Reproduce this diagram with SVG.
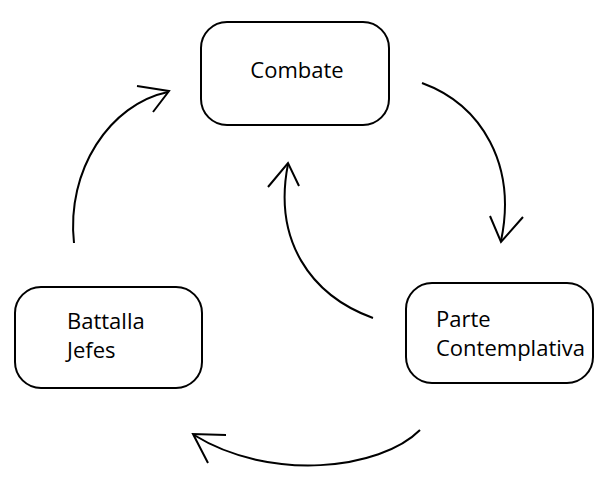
<svg xmlns="http://www.w3.org/2000/svg" width="598" height="492" viewBox="0 0 598 492">
<style>
.box{fill:#fff;stroke:#000;stroke-width:2}
.lbl{font-family:"Open Sans","Noto Sans",sans-serif;font-size:22px;fill:#000}
.con{fill:none;stroke:#000;stroke-width:2}
</style>
<rect width="598" height="492" fill="#fff"/>
<g id="combate">
<rect class="box" x="201" y="22" width="188" height="103" rx="26"/>
<text class="lbl" x="297" y="78" text-anchor="middle">Combate</text>
</g>
<g id="battalla">
<rect class="box" x="15" y="287" width="187" height="101" rx="26"/>
<text class="lbl" x="67" y="329">Battalla</text>
<text class="lbl" x="67" y="358">Jefes</text>
</g>
<g id="parte">
<rect class="box" x="406" y="283" width="187" height="100" rx="26"/>
<text class="lbl" x="436" y="327">Parte</text>
<text class="lbl" x="436" y="356">Contemplativa</text>
</g>
<g id="connectors">
<path class="con" d="M74,243 C66,170 110,104 168,92"/>
<path class="con" d="M137,86 L169,91 L153,112"/>
<path class="con" d="M422,83 C482,105 517,165 501,241"/>
<path class="con" d="M490,216 L501,242 L523,217"/>
<path class="con" d="M373,318 C310,295 273,240 288,164"/>
<path class="con" d="M268,187 L288,163 L299,186"/>
<path class="con" d="M420,430 C380,470 270,482 194,435"/>
<path class="con" d="M226,435 L193,434 L208,463"/>
</g>
</svg>
